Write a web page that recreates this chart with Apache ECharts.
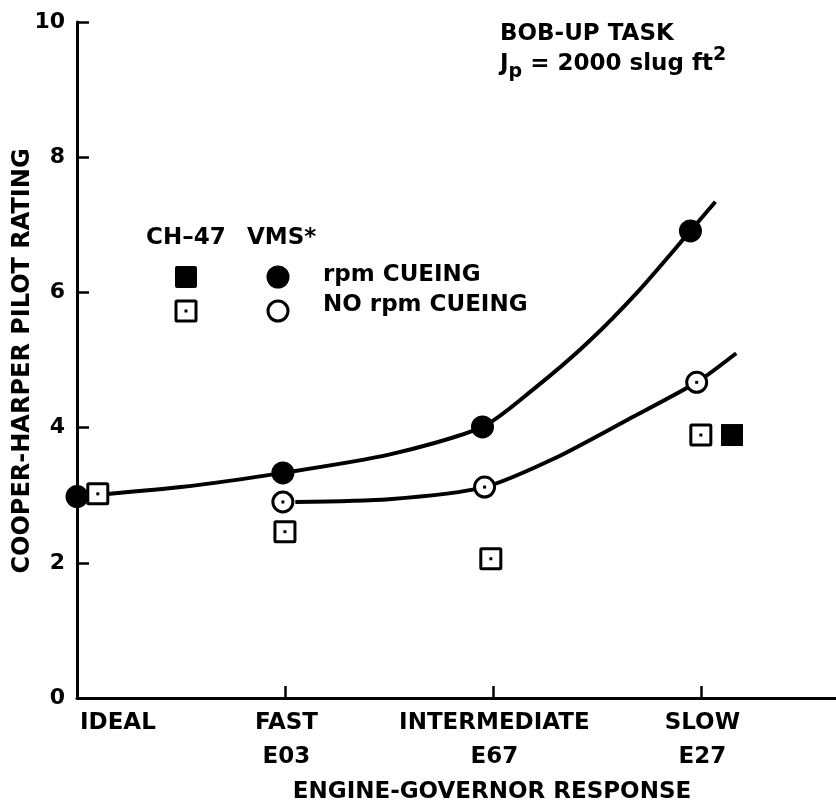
<!DOCTYPE html>
<html>
<head>
<meta charset="utf-8">
<script src="https://cdn.jsdelivr.net/npm/echarts@6/dist/echarts.min.js"></script>
<style>
html,body{margin:0;padding:0;background:#fff;}
#chart{width:836px;height:809px;}
</style>
</head>
<body>
<div id="chart"></div>
<script>
// ---- data ----
const categories = ['IDEAL', 'FAST\nE03', 'INTERMEDIATE\nE67', 'SLOW\nE27'];
const yTickStep = 2;
// VMS, rpm cueing (filled circles)
const vmsCueing = [[0, 2.98], [0.99, 3.33], [1.95, 4.01], [2.95, 6.91]];
// VMS, no rpm cueing (open circles)
const vmsNoCueing = [[0.99, 2.90], [1.96, 3.12], [2.98, 4.67]];
// CH-47, no rpm cueing (open squares)
const ch47NoCueing = [[0.10, 3.02], [1.00, 2.46], [1.99, 2.06], [3.00, 3.89]];
// CH-47, rpm cueing (filled squares)
const ch47Cueing = [[3.15, 3.89]];
// faired curves
const cueingCurve = [[0, 2.98], [0.5, 3.12], [0.99, 3.33], [1.5, 3.60], [1.95, 4.01], [2.2, 4.58], [2.45, 5.24], [2.7, 6.02], [2.95, 6.91], [3.07, 7.34]];
const noCueingCurve = [[1.05, 2.90], [1.5, 2.94], [1.96, 3.12], [2.3, 3.55], [2.65, 4.12], [2.98, 4.67], [3.17, 5.10]];

const FONT = 'DejaVu Sans';
const chart = echarts.init(document.getElementById('chart'), null, {renderer: 'canvas'});

function openSquare(params, api) {
  const p = api.coord([api.value(0), api.value(1)]);
  return {type: 'group', children: [
    {type: 'rect', shape: {x: p[0] - 10, y: p[1] - 10, width: 20, height: 20, r: 1}, style: {fill: '#fff', stroke: '#000', lineWidth: 3}},
    {type: 'rect', shape: {x: p[0] - 1.5, y: p[1] - 1.5, width: 3, height: 3}, style: {fill: '#000'}}
  ]};
}
function openCircle(params, api) {
  const p = api.coord([api.value(0), api.value(1)]);
  return {type: 'group', children: [
    {type: 'circle', shape: {cx: p[0], cy: p[1], r: 10}, style: {fill: '#fff', stroke: '#000', lineWidth: 3}},
    {type: 'rect', shape: {x: p[0] - 1.5, y: p[1] - 1.5, width: 3, height: 3}, style: {fill: '#000'}}
  ]};
}

const txt = (x, y, text, size, align) => ({
  type: 'text', x: x, y: y, z: 10,
  style: {text: text, fill: '#000', font: 'bold ' + size + 'px "' + FONT + '"', textAlign: align || 'left', textVerticalAlign: 'middle'}
});

const option = {
  backgroundColor: '#fff',
  animation: false,
  grid: {left: 77, right: 0, top: 22, bottom: 111, containLabel: false, outerBoundsMode: 'none'},
  xAxis: {
    type: 'value', min: 0, max: 3.65, interval: 1,
    axisLine: {show: true, onZero: false, lineStyle: {color: '#000', width: 3}},
    axisTick: {show: true, inside: true, length: 12, lineStyle: {color: '#000', width: 2.5}},
    splitLine: {show: false},
    axisLabel: {
      show: true, margin: 8, color: '#000', fontFamily: FONT, fontWeight: 'bold', fontSize: 23, lineHeight: 34,
      alignMinLabel: 'left', showMaxLabel: false, padding: [0, 0, 0, 3],
      formatter: v => (Number.isInteger(v) && v < categories.length) ? categories[v] : ''
    }
  },
  yAxis: {
    type: 'value', min: 0, max: 10, interval: yTickStep,
    axisLine: {show: true, lineStyle: {color: '#000', width: 3}},
    axisTick: {show: true, inside: true, length: 12, lineStyle: {color: '#000', width: 2.5}},
    splitLine: {show: false},
    axisLabel: {margin: 12, color: '#000', fontFamily: FONT, fontWeight: 'bold', fontSize: 22}
  },
  series: [
    {type: 'line', data: cueingCurve, smooth: 0.25, symbol: 'none', lineStyle: {color: '#000', width: 4}, z: 2},
    {type: 'line', data: noCueingCurve, smooth: 0.25, symbol: 'none', lineStyle: {color: '#000', width: 4}, z: 2},
    {type: 'custom', data: ch47NoCueing, renderItem: openSquare, z: 5},
    {type: 'custom', data: vmsNoCueing, renderItem: openCircle, z: 5},
    {type: 'scatter', data: vmsCueing, symbol: 'circle', symbolSize: 23, itemStyle: {color: '#000', opacity: 1}, z: 6},
    {type: 'scatter', data: ch47Cueing, symbol: 'rect', symbolSize: 22, itemStyle: {color: '#000', opacity: 1}, z: 6}
  ],
  graphic: [
    {
      type: 'text', x: 23, y: 361, rotation: Math.PI / 2, z: 10,
      style: {text: 'COOPER-HARPER PILOT RATING', fill: '#000', font: 'bold 24px "' + FONT + '"', textAlign: 'center', textVerticalAlign: 'middle'}
    },
    txt(500, 34, 'BOB-UP TASK', 23),
    {
      type: 'text', x: 500, y: 64, z: 10,
      style: {
        text: '{a|J}{s|p}{a| = 2000 slug ft}{u|2}', textVerticalAlign: 'middle',
        rich: {
          a: {fontFamily: FONT, fontWeight: 'bold', fontSize: 23, lineHeight: 24, fill: '#000'},
          s: {fontFamily: FONT, fontWeight: 'bold', fontSize: 19, lineHeight: 20, padding: [16, 0, 0, 0], fill: '#000'},
          u: {fontFamily: FONT, fontWeight: 'bold', fontSize: 19, lineHeight: 20, padding: [0, 0, 18, 0], fill: '#000'}
        }
      }
    },
    txt(146, 238, 'CH\u201347', 23),
    txt(247, 238, 'VMS*', 23),
    {type: 'rect', shape: {x: 175, y: 266, width: 22, height: 22, r: 2}, style: {fill: '#000'}},
    {type: 'circle', shape: {cx: 278, cy: 277, r: 11.5}, style: {fill: '#000'}},
    txt(323, 275, 'rpm CUEING', 23),
    {type: 'rect', shape: {x: 176, y: 301, width: 20, height: 20, r: 1}, style: {fill: '#fff', stroke: '#000', lineWidth: 3}},
    {type: 'rect', shape: {x: 184.5, y: 309.5, width: 3, height: 3}, style: {fill: '#000'}},
    {type: 'circle', shape: {cx: 278, cy: 311, r: 10}, style: {fill: '#fff', stroke: '#000', lineWidth: 3}},
    txt(323, 305, 'NO rpm CUEING', 23),
    txt(492, 792, 'ENGINE-GOVERNOR RESPONSE', 23, 'center')
  ]
};
chart.setOption(option);
</script>
</body>
</html>
